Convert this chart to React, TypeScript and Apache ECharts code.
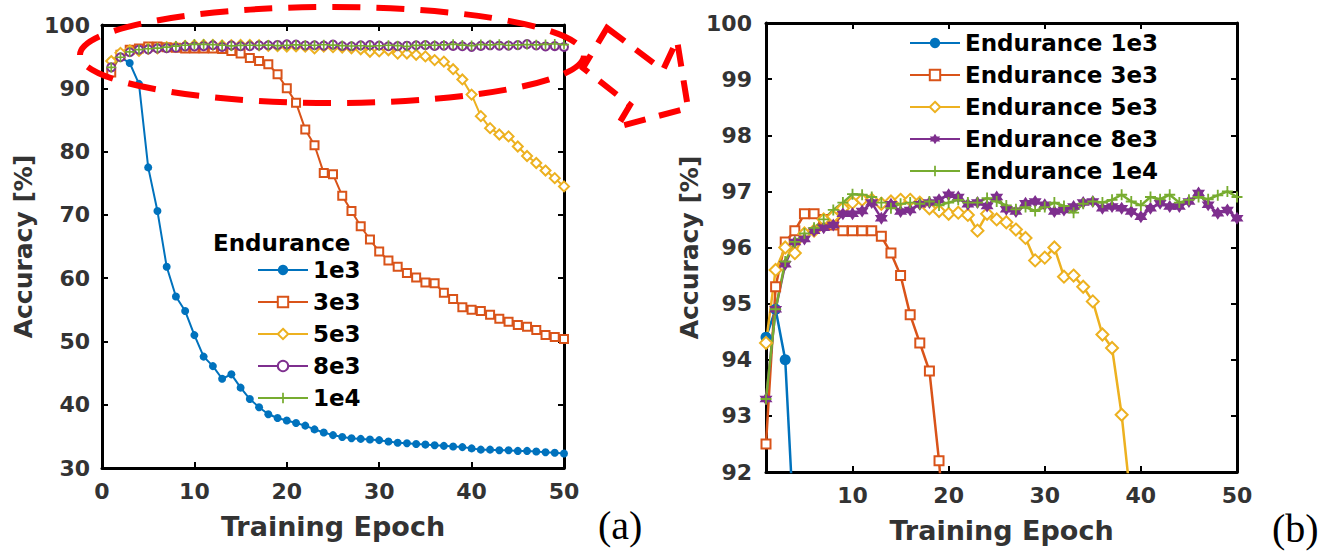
import React, { useEffect, useRef } from "react";
import * as echarts from "echarts";

const EPOCHS = [1,2,3,4,5,6,7,8,9,10,11,12,13,14,15,16,17,18,19,20,21,22,23,24,25,26,27,28,29,30,31,32,33,34,35,36,37,38,39,40,41,42,43,44,45,46,47,48,49,50];

const ACC_1E3 = [94.4,94.9,94.0,90.7,77.5,70.6,61.8,57.1,54.8,51.0,47.6,46.1,44.1,44.8,42.7,40.9,39.6,38.5,37.9,37.5,37.1,36.7,36.1,35.6,35.2,34.9,34.7,34.6,34.5,34.4,34.2,34.0,33.9,33.8,33.7,33.6,33.5,33.4,33.3,33.1,32.9,32.9,32.8,32.8,32.7,32.7,32.6,32.5,32.4,32.3];
const ACC_3E3 = [92.5,95.3,96.1,96.3,96.6,96.6,96.5,96.4,96.3,96.3,96.3,96.3,96.2,95.9,95.5,94.8,94.3,93.8,92.2,90.0,87.7,83.5,81.0,76.6,76.4,73.0,70.6,68.2,66.1,64.2,62.8,61.8,60.8,60.1,59.3,59.2,57.7,56.7,55.4,55.0,54.8,54.2,53.6,53.1,52.6,52.3,51.8,51.0,50.7,50.4];
const ACC_5E3 = [94.3,95.6,96.0,95.9,96.25,96.3,96.5,96.55,96.7,96.8,96.85,96.85,96.78,96.82,96.85,96.85,96.8,96.7,96.65,96.6,96.62,96.58,96.3,96.6,96.5,96.45,96.32,96.17,95.77,95.82,96.0,95.48,95.5,95.3,95.04,94.45,94.21,93.02,91.4,89.0,85.6,83.7,82.7,82.4,80.8,79.3,78.2,77.0,75.8,74.5];
const ACC_8E3 = [93.3,94.9,95.7,96.1,96.15,96.3,96.35,96.4,96.6,96.6,96.65,96.8,96.52,96.77,96.64,96.67,96.77,96.8,96.85,96.94,96.9,96.77,96.8,96.74,96.9,96.68,96.64,96.79,96.82,96.76,96.64,96.67,96.73,96.8,96.82,96.7,96.73,96.7,96.64,96.55,96.7,96.79,96.73,96.73,96.82,96.97,96.76,96.61,96.67,96.52];
const ACC_1E4 = [93.3,94.9,95.75,96.1,96.25,96.35,96.5,96.67,96.8,96.95,96.94,96.9,96.8,96.7,96.78,96.8,96.78,96.82,96.75,96.8,96.85,96.8,96.8,96.88,96.82,96.75,96.68,96.72,96.65,96.72,96.8,96.74,96.62,96.78,96.82,96.8,96.85,96.94,96.82,96.75,96.9,96.86,96.94,96.8,96.85,96.9,96.86,96.93,97.0,96.9];

const LEFT_NAMES = ["1e3", "3e3", "5e3", "8e3", "1e4"];
const RIGHT_NAMES = ["Endurance 1e3", "Endurance 3e3", "Endurance 5e3", "Endurance 8e3", "Endurance 1e4"];
const RIGHT_X_TICKS = [10, 20, 30, 40, 50];

const COLORS = ["#0072BD", "#D95319", "#EDB120", "#7E2F8E", "#77AC30"];
const PLUS = "path://M-1,-6H1V-1H6V1H1V6H-1V1H-6V-1H-1Z";
const HEXAGRAM = "path://M0,-10L2.89,-5L8.66,-5L5.77,0L8.66,5L2.89,5L0,10L-2.89,5L-8.66,5L-5.77,0L-8.66,-5L-2.89,-5Z";

const FONT = "DejaVu Sans";

function pairs(ys: number[]) {
  return EPOCHS.map((x, i) => [x, ys[i]]);
}

export default function App() {
  const ref = useRef<HTMLDivElement>(null);
  useEffect(() => {
    if (!ref.current) return;
    const chart = echarts.init(ref.current, undefined, { renderer: "svg" });
    const allData = [ACC_1E3, ACC_3E3, ACC_5E3, ACC_8E3, ACC_1E4];
    const leftSymbols = ["circle", "emptyRect", "emptyDiamond", "emptyCircle", PLUS];
    const leftSizes = [8, 8, 10, 8, 10];
    const rightSymbols = ["circle", "emptyRect", "emptyDiamond", HEXAGRAM, PLUS];
    const rightSizes = [11, 9, 12, 13, 11];

    const axisLine = { show: true, onZero: false, lineStyle: { color: "#000", width: 3 } };
    const axisTick = { show: true, inside: true, length: 6, lineStyle: { color: "#000", width: 2 } };
    const labelStyle = { fontFamily: FONT, fontWeight: "bold", fontSize: 22, color: "#333" };
    const nameStyle = { fontFamily: FONT, fontWeight: "bold", fontSize: 27, color: "#333" };
    const yNameStyle = { fontFamily: FONT, fontWeight: "bold", fontSize: 25, color: "#333" };

    const series: any[] = [];
    allData.forEach((d, i) => {
      series.push({
        name: LEFT_NAMES[i], type: "line", xAxisIndex: 0, yAxisIndex: 0,
        data: pairs(d), symbol: leftSymbols[i], symbolSize: leftSizes[i],
        lineStyle: { color: COLORS[i], width: 2 },
        itemStyle: { color: COLORS[i], borderWidth: 2 },
      });
    });
    allData.forEach((d, i) => {
      series.push({
        name: RIGHT_NAMES[i], type: "line", xAxisIndex: 2, yAxisIndex: 2,
        data: pairs(d), symbol: rightSymbols[i], symbolSize: rightSizes[i],
        lineStyle: { color: COLORS[i], width: 2.5 },
        itemStyle: { color: COLORS[i], borderWidth: 2 },
        clip: true,
      });
    });

    const legendText = { fontFamily: FONT, fontWeight: "bold", fontSize: 23, color: "#000", lineHeight: 24 };

    chart.setOption({
      animation: false,
      backgroundColor: "#fff",
      grid: [
        { left: 102, top: 25, width: 462, height: 443 },
        { left: 766, top: 23, width: 471, height: 449 },
      ],
      xAxis: [
        { gridIndex: 0, type: "value", min: 0, max: 50, interval: 10, position: "bottom",
          axisLine, axisTick, splitLine: { show: false },
          axisLabel: { ...labelStyle, margin: 12 },
          name: "Training Epoch", nameLocation: "middle", nameGap: 45, nameTextStyle: nameStyle },
        { gridIndex: 0, type: "value", min: 0, max: 50, interval: 10, position: "top",
          axisLine, axisTick, splitLine: { show: false }, axisLabel: { show: false } },
        { gridIndex: 1, type: "value", min: 1, max: 50, position: "bottom",
          axisLine, axisTick: { ...axisTick, customValues: RIGHT_X_TICKS }, splitLine: { show: false },
          axisLabel: { ...labelStyle, margin: 12, customValues: RIGHT_X_TICKS },
          name: "Training Epoch", nameLocation: "middle", nameGap: 45, nameTextStyle: nameStyle },
        { gridIndex: 1, type: "value", min: 1, max: 50, position: "top",
          axisLine, axisTick: { ...axisTick, customValues: RIGHT_X_TICKS }, splitLine: { show: false },
          axisLabel: { show: false, customValues: RIGHT_X_TICKS } },
      ],
      yAxis: [
        { gridIndex: 0, type: "value", min: 30, max: 100, interval: 10, position: "left",
          axisLine, axisTick, splitLine: { show: false },
          axisLabel: { ...labelStyle, margin: 12 },
          name: "Accuracy [%]", nameLocation: "middle", nameGap: 66, nameTextStyle: yNameStyle },
        { gridIndex: 0, type: "value", min: 30, max: 100, interval: 10, position: "right",
          axisLine, axisTick, splitLine: { show: false }, axisLabel: { show: false } },
        { gridIndex: 1, type: "value", min: 92, max: 100, interval: 1, position: "left",
          axisLine, axisTick, splitLine: { show: false },
          axisLabel: { ...labelStyle, margin: 14 },
          name: "Accuracy [%]", nameLocation: "middle", nameGap: 61, nameTextStyle: yNameStyle },
        { gridIndex: 1, type: "value", min: 92, max: 100, interval: 1, position: "right",
          axisLine, axisTick, splitLine: { show: false }, axisLabel: { show: false } },
      ],
      legend: [
        { data: LEFT_NAMES, orient: "vertical", left: 257, top: 258, padding: 0,
          itemWidth: 50, itemHeight: 13, itemGap: 8, selectedMode: false, textStyle: legendText },
        { data: RIGHT_NAMES, orient: "vertical", left: 909, top: 31, padding: 0,
          itemWidth: 50, itemHeight: 13, itemGap: 8, selectedMode: false, textStyle: legendText },
      ],
      graphic: [
        { type: "text", x: 213, y: 243, z: 50,
          style: { text: "Endurance", fontFamily: FONT, fontWeight: "bold", fontSize: 23, fill: "#000", verticalAlign: "middle" } },
        { type: "text", x: 598, y: 525, z: 50,
          style: { text: "(a)", fontFamily: "Liberation Serif", fontSize: 40, fill: "#000", verticalAlign: "middle" } },
        { type: "text", x: 1272, y: 528, z: 50,
          style: { text: "(b)", fontFamily: "Liberation Serif", fontSize: 40, fill: "#000", verticalAlign: "middle" } },
        { type: "ellipse", z: 100, shape: { cx: 332, cy: 55, rx: 252, ry: 48 },
          style: { fill: "none", stroke: "#ff0000", lineWidth: 6, lineDash: [28, 16] } },
        { type: "polygon", z: 100,
          shape: { points: [[607, 28], [663, 70], [677, 40], [688, 108], [617, 127], [630, 105], [583, 68]] },
          style: { fill: "none", stroke: "#ff0000", lineWidth: 6, lineDash: [22, 14] } },
      ],
      series,
    });
    return () => chart.dispose();
  }, []);
  return <div ref={ref} style={{ position: "fixed", left: 0, top: 0, width: 1341, height: 553 }} />;
}
